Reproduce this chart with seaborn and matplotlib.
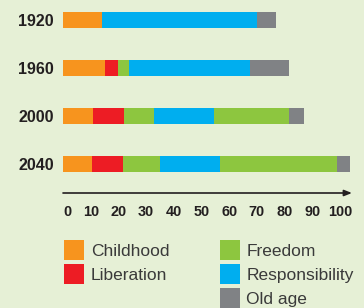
import matplotlib
matplotlib.use("Agg")
import matplotlib.pyplot as plt
import matplotlib.patches as mpatches
import seaborn as sns
import pandas as pd
import numpy as np

# ---- data ----
years = ["1920", "1960", "2000", "2040"]
childhood = [14, 15, 11, 10.5]
liberation = [0, 5, 11, 11]
freedom_early = [0, 4, 11, 13.5]
responsibility = [56, 43.5, 21.5, 21.5]
freedom_late = [0, 0, 27, 42.5]
old_age = [7, 14, 5.5, 4.5]
ticks = [0, 10, 20, 30, 40, 50, 60, 70, 80, 90, 100]
legend_labels = ["Childhood", "Liberation", "Freedom", "Responsibility", "Old age"]

# ---- styles ----
C_ORANGE = "#F7941E"
C_RED = "#ED1C24"
C_GREEN = "#8DC63F"
C_BLUE = "#00AEEF"
C_GRAY = "#808285"
BG = "#E6F0D6"
TXT = "#231F20"

sns.set_style("white")
plt.rcParams["font.family"] = ["Liberation Sans", "DejaVu Sans"]

segments = [childhood, liberation, freedom_early, responsibility, freedom_late, old_age]
seg_colors = [C_ORANGE, C_RED, C_GREEN, C_BLUE, C_GREEN, C_GRAY]
cums = np.cumsum(np.array(segments, dtype=float), axis=0)

df = pd.DataFrame({"year": years})
for i in range(len(segments)):
    df[f"c{i}"] = cums[i]

W, H = 364, 308
fig = plt.figure(figsize=(W / 100, H / 100), dpi=100, facecolor=BG)
px = 2.77
xmax = 105
ax_top, ax_bot = 0, 193
ax = fig.add_axes([63 / W, 1 - ax_bot / H, xmax * px / W, (ax_bot - ax_top) / H])
ax.set_facecolor(BG)

for i in reversed(range(len(segments))):
    sns.barplot(data=df, y="year", x=f"c{i}", orient="h", order=years,
                color=seg_colors[i], saturation=1, width=1 / 3,
                errorbar=None, ax=ax, linewidth=0)

y_bottom = (ax_bot - 20) / 48
ax.set_ylim(y_bottom, -20 / 48)
ax.set_xlim(0, xmax)
for s in ax.spines.values():
    s.set_visible(False)
ax.set_xlabel("")
ax.set_ylabel("")

ax.set_xticks(ticks)
ax.set_xticklabels([str(t) for t in ticks], fontsize=10.4, fontweight="bold", color=TXT)
ax.get_xticklabels()[0].set_horizontalalignment("left")
ax.tick_params(axis="x", length=0, pad=8.6)
ax.tick_params(axis="y", length=0, pad=6.5)
for lab in ax.get_yticklabels():
    lab.set_fontsize(11.5)
    lab.set_fontweight("bold")
    lab.set_color(TXT)

ax.annotate("", xy=(104.3, y_bottom), xytext=(0, y_bottom),
            arrowprops=dict(arrowstyle="-|>,head_length=0.45,head_width=0.18",
                            color=TXT, lw=1.2, shrinkA=0, shrinkB=0),
            annotation_clip=False)

leg_colors = [C_ORANGE, C_RED, C_GREEN, C_BLUE, C_GRAY]
handles = [mpatches.Patch(facecolor=c, edgecolor="none", label=l)
           for c, l in zip(leg_colors, legend_labels)]
blank = mpatches.Patch(facecolor="none", edgecolor="none", label=" ")
handles = handles[:2] + [blank] + handles[2:]
fs = 12.5
fs_px = fs * 100 / 72
leg = fig.legend(handles=handles, loc="upper left",
                 bbox_to_anchor=(64 / W, 1 - 240 / H), ncol=2, frameon=False,
                 fontsize=fs, handlelength=20 / fs_px, handleheight=1.4,
                 handletextpad=6.7 / fs_px, labelspacing=0.23,
                 columnspacing=2.9, borderpad=0, borderaxespad=0)
for t in leg.get_texts():
    t.set_color("#3A3A3A")

fig.savefig("out.png", dpi=100, facecolor=BG)
